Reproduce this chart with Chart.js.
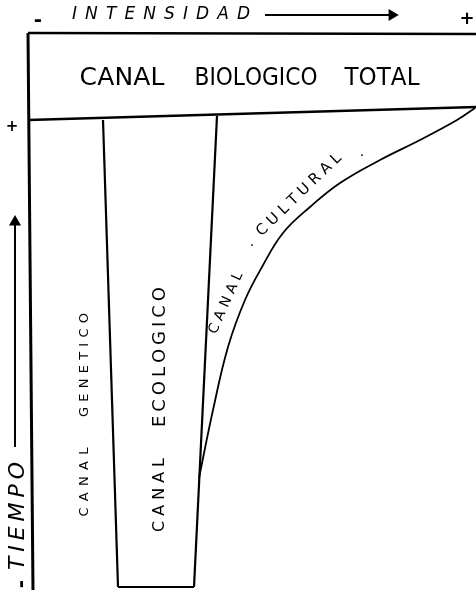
<!DOCTYPE html>
<html>
<head>
<meta charset="utf-8">
<script src="https://cdn.jsdelivr.net/npm/chart.js@4/dist/chart.umd.min.js"></script>
<style>
html,body{margin:0;padding:0;background:#fff;}
canvas{display:block;}
</style>
</head>
<body>
<canvas id="c" width="476" height="590"></canvas>
<script>
// Intensity (x) and time (t, bottom = 0) values
const boxTopX = [28, 476],           boxTopT = [557, 556];
const boxBottomX = [28, 476],        boxBottomT = [470, 483];
const leftEdgeX = [28, 33],          leftEdgeT = [557, 0];
const geneticX = [103, 118],         geneticT = [470, 3];
const ecologicalX = [217, 194],      ecologicalT = [474, 3];
const baseX = [118, 194],            baseT = [3, 3];
const culturalX = [199, 213, 228, 245, 262, 283, 310, 340, 380, 420, 457, 475];
const culturalT = [112, 180, 243, 290, 323, 357, 383, 407, 430, 450, 470, 482];
const intensArrowX = [265, 392],     intensArrowT = [575, 575];
const timeArrowX = [15, 15],         timeArrowT = [143, 368];

const labelTexts = ['-', 'INTENSIDAD', '+', 'CANAL', 'BIOLOGICO', 'TOTAL', '+', 'TIEMPO', '-',
  'CANAL', 'GENETICO', 'CANAL', 'ECOLOGICO', 'CANAL', 'CULTURAL', '.', '.'];
const labelX = [38, 161, 467, 122, 256, 382, 12, 18, 22, 85, 85, 160, 160, 226, 299, 252, 362];
const labelT = [569, 575, 571, 512, 512, 512, 463, 74, 6, 108, 225, 95, 233, 287, 395, 348, 438];

// layout/styling for labels (not data)
const labelStyle = [
  {size:20, bold:true},
  {size:17, len:178, italic:true},
  {size:18, bold:true},
  {size:25, len:85},
  {size:25, len:123},
  {size:25, len:75},
  {size:15, bold:true},
  {size:22, len:108, italic:true, angle:-90},
  {size:20, bold:true, angle:-90},
  {size:13, len:69, angle:-90},
  {size:13, len:104, angle:-90},
  {size:16, len:74, angle:-90},
  {size:18, len:140, angle:-90},
  {size:14, len:66, angle:-66},
  {size:15, len:112, angle:-44},
  {size:14},
  {size:14}
];

function pts(xs, ts){ return xs.map((x,i)=>({x:x, y:ts[i]})); }
function line(xs, ts, w, extra){
  return Object.assign({data:pts(xs,ts), showLine:true, borderColor:'#000', backgroundColor:'#000',
    borderWidth:w, pointRadius:0, clip:false, tension:0}, extra||{});
}

const labelPlugin = {
  id:'labels',
  afterDatasetsDraw(chart){
    const ctx = chart.ctx, xs = chart.scales.x, ys = chart.scales.y;
    labelTexts.forEach((txt,i)=>{
      const st = labelStyle[i];
      const px = xs.getPixelForValue(labelX[i]), py = ys.getPixelForValue(labelT[i]);
      ctx.save();
      ctx.translate(px, py);
      ctx.rotate((st.angle||0)*Math.PI/180);
      ctx.font = (st.italic?'italic ':'') + (st.bold?'bold ':'') + st.size + 'px "DejaVu Sans", sans-serif';
      ctx.fillStyle = '#000';
      ctx.textBaseline = 'middle';
      if (!st.len || txt.length < 2){
        ctx.textAlign = 'center';
        ctx.fillText(txt, 0, 0);
      } else {
        const ws = [...txt].map(ch=>ctx.measureText(ch).width);
        const tot = ws.reduce((a,b)=>a+b,0);
        let gap = (st.len - tot)/(txt.length-1);
        let sc = 1;
        if (gap < 0){ sc = st.len/tot; gap = 0; }
        let cur = -st.len/2;
        ctx.textAlign = 'left';
        [...txt].forEach((ch,k)=>{
          ctx.save();
          ctx.translate(cur,0);
          ctx.scale(sc,1);
          ctx.fillText(ch,0,0);
          ctx.restore();
          cur += ws[k]*sc + gap;
        });
      }
      ctx.restore();
    });
  }
};

new Chart(document.getElementById('c'), {
  type:'scatter',
  data:{datasets:[
    line(boxTopX, boxTopT, 2.5),
    line(boxBottomX, boxBottomT, 2.5),
    line(leftEdgeX, leftEdgeT, 3),
    line(geneticX, geneticT, 2.2),
    line(ecologicalX, ecologicalT, 2.2),
    line(baseX, baseT, 2),
    line(culturalX, culturalT, 1.8, {tension:0.4}),
    line(intensArrowX, intensArrowT, 1.8, {pointRadius:[0,5], pointStyle:'triangle', rotation:[0,90]}),
    line(timeArrowX, timeArrowT, 2, {pointRadius:[0,5], pointStyle:'triangle', rotation:[0,0]})
  ]},
  options:{
    responsive:false, animation:false, devicePixelRatio:1,
    layout:{padding:0, autoPadding:false},
    plugins:{legend:{display:false}, tooltip:{enabled:false}},
    scales:{
      x:{type:'linear', min:0, max:476, display:false},
      y:{type:'linear', min:0, max:590, display:false}
    }
  },
  plugins:[labelPlugin]
});
</script>
</body>
</html>
